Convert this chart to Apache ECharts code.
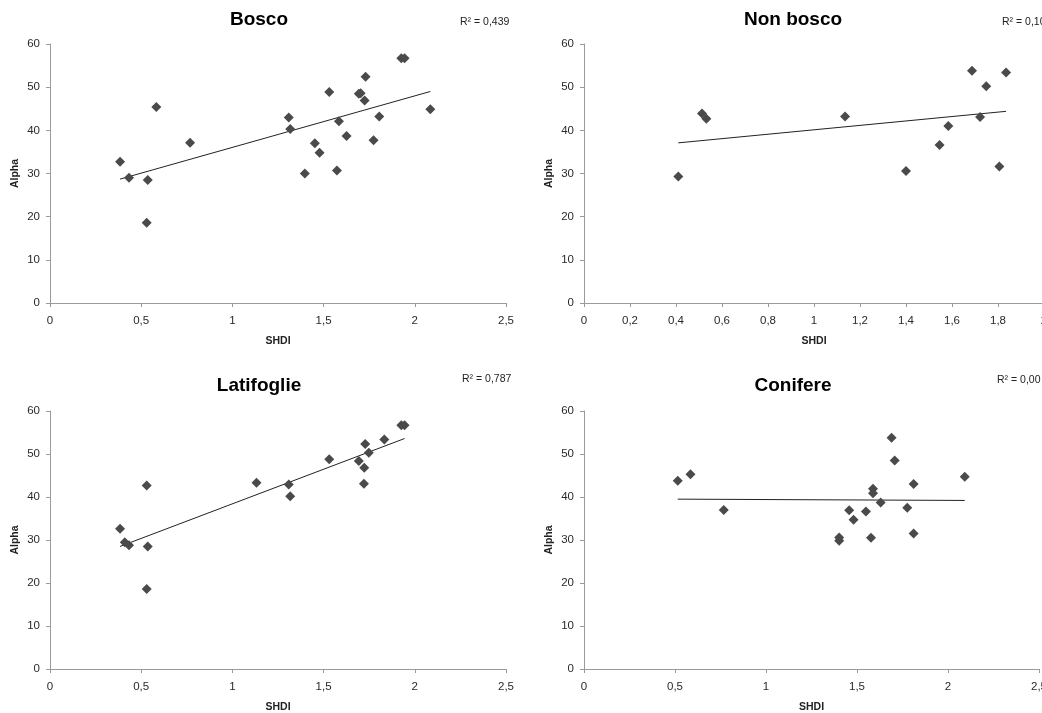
<!DOCTYPE html>
<html>
<head>
<meta charset="utf-8">
<script src="https://cdn.jsdelivr.net/npm/echarts@6/dist/echarts.min.js"></script>
<style>
html,body{margin:0;padding:0;background:#fff;}
#chart{width:1042px;height:713px;}
</style>
</head>
<body>
<div id="chart"></div>
<script>
// ---- Data ----
const panelTitles = ['Bosco', 'Non bosco', 'Latifoglie', 'Conifere'];
const r2Labels = ['R² = 0,439', 'R² = 0,10', 'R² = 0,787', 'R² = 0,00'];
const xAxisName = 'SHDI';
const yAxisName = 'Alpha';

const boscoX = [0.384, 0.433, 0.536, 0.530, 0.583, 0.768, 1.309, 1.317, 1.397, 1.452, 1.478, 1.531, 1.573, 1.584, 1.626, 1.693, 1.703, 1.725, 1.730, 1.774, 1.805, 1.926, 1.944, 2.085];
const boscoY = [32.7, 29.0, 28.5, 18.6, 45.4, 37.1, 43.0, 40.3, 30.0, 37.0, 34.8, 48.9, 30.7, 42.1, 38.7, 48.5, 48.6, 46.9, 52.4, 37.7, 43.2, 56.7, 56.7, 44.9];
const boscoTrend = [[0.384, 28.7], [2.085, 49.0]];

const nonBoscoX = [0.410, 0.513, 0.532, 1.135, 1.400, 1.546, 1.584, 1.687, 1.722, 1.749, 1.806, 1.835];
const nonBoscoY = [29.3, 43.9, 42.7, 43.2, 30.6, 36.6, 41.0, 53.8, 43.1, 50.2, 31.6, 53.4];
const nonBoscoTrend = [[0.410, 37.1], [1.835, 44.4]];

const latifoglieX = [0.384, 0.410, 0.433, 0.536, 0.530, 0.530, 1.132, 1.309, 1.317, 1.531, 1.693, 1.723, 1.721, 1.728, 1.748, 1.833, 1.926, 1.944];
const latifoglieY = [32.6, 29.5, 28.8, 28.5, 18.6, 42.7, 43.3, 42.9, 40.2, 48.8, 48.4, 46.8, 43.1, 52.3, 50.3, 53.4, 56.7, 56.7];
const latifoglieTrend = [[0.384, 28.5], [1.944, 53.6]];

const conifereX = [0.515, 0.585, 0.768, 1.402, 1.402, 1.457, 1.481, 1.549, 1.577, 1.588, 1.588, 1.630, 1.690, 1.707, 1.776, 1.811, 1.811, 2.092];
const conifereY = [43.8, 45.3, 37.0, 30.6, 29.8, 36.9, 34.7, 36.6, 30.5, 41.9, 40.9, 38.7, 53.8, 48.5, 37.5, 43.0, 31.5, 44.7];
const conifereTrend = [[0.515, 39.5], [2.092, 39.2]];

const xMax = [2.5, 2, 2.5, 2.5];
const xInterval = [0.5, 0.2, 0.5, 0.5];
const yMax = [60, 60, 60, 60];
const yInterval = [10, 10, 10, 10];

// ---- Layout ----
const grids = [
  {left: 50, top: 44, width: 456, height: 259, outerBoundsMode: 'none', containLabel: false},
  {left: 584, top: 44, width: 460, height: 259, outerBoundsMode: 'none', containLabel: false},
  {left: 50, top: 411, width: 456, height: 258, outerBoundsMode: 'none', containLabel: false},
  {left: 584, top: 411, width: 455, height: 258, outerBoundsMode: 'none', containLabel: false}
];
const titlePos = [[259, 10], [793, 10], [259, 376], [793, 376]];
const r2Pos = [[460, 17], [1002, 17], [462, 374], [997, 375]];

const pointsX = [boscoX, nonBoscoX, latifoglieX, conifereX];
const pointsY = [boscoY, nonBoscoY, latifoglieY, conifereY];
const trends = [boscoTrend, nonBoscoTrend, latifoglieTrend, conifereTrend];

const axisColor = '#9a9a9a';
const labelColor = '#2a2a2a';
const fontFam = '"Liberation Sans", Arial, sans-serif';

function fmt(v) {
  return String(Math.round(v * 10) / 10).replace('.', ',');
}

const titles = [];
const xAxes = [];
const yAxes = [];
const series = [];

for (let i = 0; i < 4; i++) {
  titles.push({
    text: panelTitles[i], left: titlePos[i][0], top: titlePos[i][1], textAlign: 'center', padding: 0,
    textStyle: {fontFamily: fontFam, fontSize: 19, fontWeight: 'bold', color: '#000'}
  });
  titles.push({
    text: r2Labels[i], left: r2Pos[i][0], top: r2Pos[i][1], padding: 0,
    textStyle: {fontFamily: fontFam, fontSize: 10.5, fontWeight: 'normal', color: '#222'}
  });
  xAxes.push({
    type: 'value', gridIndex: i, min: 0, max: xMax[i], interval: xInterval[i],
    name: xAxisName, nameLocation: 'middle', nameGap: 33,
    nameTextStyle: {fontFamily: fontFam, fontSize: 10.5, fontWeight: 'bold', color: '#222'},
    axisLine: {show: true, lineStyle: {color: axisColor, width: 1}},
    axisTick: {show: true, length: 4, lineStyle: {color: axisColor}},
    axisLabel: {margin: 12, fontFamily: fontFam, fontSize: 11.5, color: labelColor, formatter: fmt, showMaxLabel: true, showMinLabel: true, hideOverlap: false},
    splitLine: {show: false}
  });
  yAxes.push({
    type: 'value', gridIndex: i, min: 0, max: yMax[i], interval: yInterval[i],
    name: yAxisName, nameLocation: 'middle', nameGap: 29,
    nameTextStyle: {fontFamily: fontFam, fontSize: 10.5, fontWeight: 'bold', color: '#222'},
    axisLine: {show: true, lineStyle: {color: axisColor, width: 1}},
    axisTick: {show: true, length: 4, lineStyle: {color: axisColor}},
    axisLabel: {margin: 10, fontFamily: fontFam, fontSize: 11.5, color: labelColor},
    splitLine: {show: false}
  });
  series.push({
    type: 'line', xAxisIndex: i, yAxisIndex: i, data: trends[i], showSymbol: false, symbol: 'none',
    lineStyle: {color: '#222', width: 1}, silent: true, animation: false, z: 2
  });
  series.push({
    type: 'scatter', xAxisIndex: i, yAxisIndex: i,
    data: pointsX[i].map((x, k) => [x, pointsY[i][k]]),
    symbol: 'diamond', symbolSize: 10,
    itemStyle: {color: '#4a4a4a', opacity: 1}, animation: false, z: 3
  });
}

const chart = echarts.init(document.getElementById('chart'), null, {renderer: 'canvas'});
chart.setOption({
  backgroundColor: '#fff',
  animation: false,
  title: titles,
  grid: grids,
  xAxis: xAxes,
  yAxis: yAxes,
  series: series
});
</script>
</body>
</html>
